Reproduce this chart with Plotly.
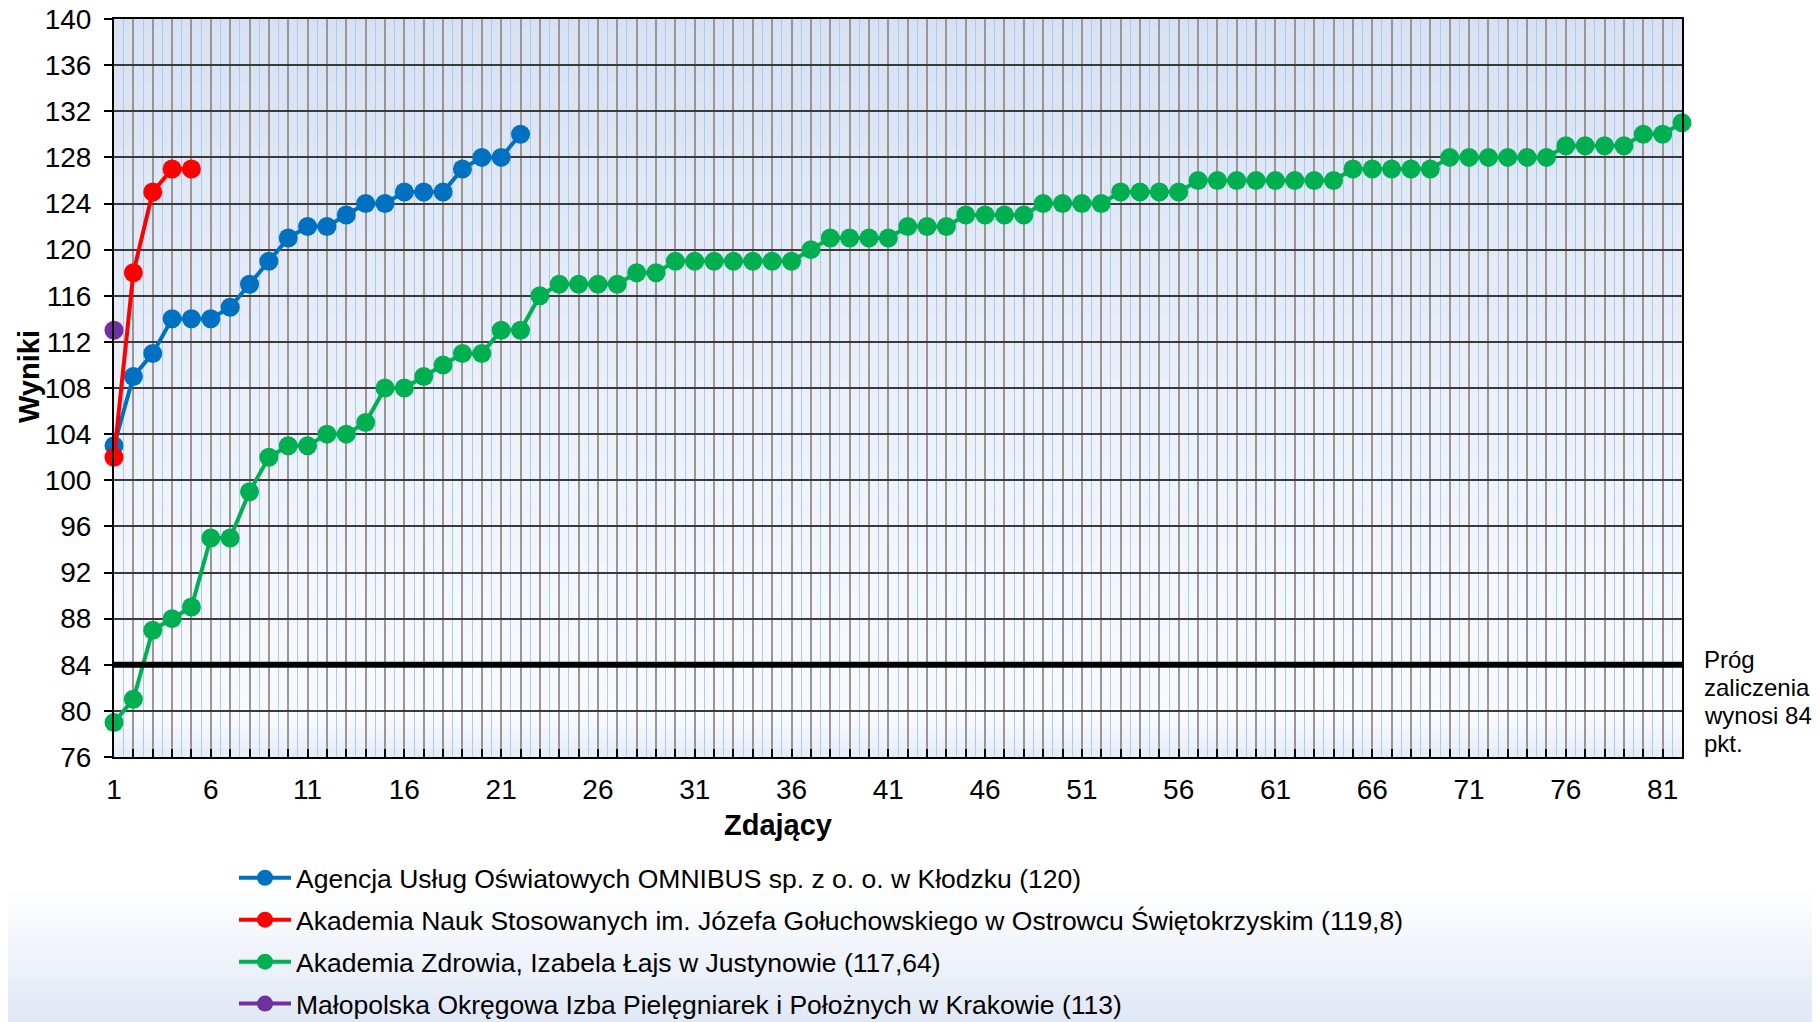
import plotly.graph_objects as go

# ---------------- data ----------------
omnibus = [103, 109, 111, 114, 114, 114, 115, 117, 119, 121, 122, 122, 123, 124,
           124, 125, 125, 125, 127, 128, 128, 130]
ans_ostrowiec = [102, 118, 125, 127, 127]
zdrowia = [79, 81, 87, 88, 89, 95, 95, 99, 102, 103, 103, 104, 104, 105, 108, 108,
           109, 110, 111, 111, 113, 113, 116, 117, 117, 117, 117, 118, 118, 119,
           119, 119, 119, 119, 119, 119, 120, 121, 121, 121, 121, 122, 122, 122,
           123, 123, 123, 123, 124, 124, 124, 124, 125, 125, 125, 125, 126, 126,
           126, 126, 126, 126, 126, 126, 127, 127, 127, 127, 127, 128, 128, 128,
           128, 128, 128, 129, 129, 129, 129, 130, 130, 131]
malopolska = [113]
threshold = 84

series_names = [
    "Agencja Usług Oświatowych OMNIBUS sp. z o. o. w Kłodzku (120)",
    "Akademia Nauk Stosowanych im. Józefa Gołuchowskiego w Ostrowcu Świętokrzyskim (119,8)",
    "Akademia Zdrowia, Izabela Łajs w Justynowie (117,64)",
    "Małopolska Okręgowa Izba Pielęgniarek i Położnych w Krakowie (113)",
]
series_colors = ["#0070C0", "#FF0000", "#00B050", "#7030A0"]
n_candidates = 82
x_ticks = list(range(1, n_candidates + 1))
x_ticktext = [str(v) if (v - 1) % 5 == 0 else "" for v in x_ticks]
y_ticks = list(range(76, 141, 4))
threshold_lines = ["Próg", "zaliczenia", "wynosi 84", "pkt."]

FONT = "Liberation Sans, Arial, sans-serif"

# page is offset by the default 8px body margin; figure is made a bit taller
# than the window so the legend never gets clipped
OFF = 8
W, H = 1820 - OFF, 1040
# plot-area geometry in page pixels
L, R, T, B = 114, 1682, 19, 757
PW, PH = R - L, B - T

def px(xp):
    return (xp - L) / PW

def py(yp):
    return (B - yp) / PH

fig = go.Figure()

for name, vals, col in zip(series_names,
                           [omnibus, ans_ostrowiec, zdrowia, malopolska],
                           series_colors):
    fig.add_trace(go.Scatter(
        x=list(range(1, len(vals) + 1)), y=vals, name=name,
        mode="lines+markers", line=dict(color=col, width=4),
        marker=dict(color=col, size=19), cliponaxis=False,
        legendgroup=name,
    ))

fig.add_trace(go.Scatter(
    x=[1, n_candidates], y=[threshold, threshold], mode="lines",
    line=dict(color="black", width=6), showlegend=False, hoverinfo="skip",
))

# ---------------- background gradients (decoration) ----------------
def lerp(c1, c2, t):
    return tuple(round(a + (b - a) * t) for a, b in zip(c1, c2))

stops = [(0.0, (228, 235, 247)), (0.05, (248, 250, 254)), (0.25, (243, 246, 252)),
         (1.0, (216, 225, 242))]

def grad_color(f):
    for (p1, c1), (p2, c2) in zip(stops[:-1], stops[1:]):
        if p1 <= f <= p2:
            return lerp(c1, c2, (f - p1) / (p2 - p1))
    return stops[-1][1]

shapes = []
N = 80
for i in range(N):
    f0, f1 = i / N, (i + 1) / N
    c = grad_color((f0 + f1) / 2)
    shapes.append(dict(type="rect", xref="x domain", yref="y domain",
                       x0=0, x1=1, y0=f0, y1=f1 + 0.002, layer="below",
                       line=dict(width=0), fillcolor="rgb(%d,%d,%d)" % c))

# page gradient at bottom
M = 40
py_top, py_bot = 888.0, 1030.0
for i in range(M):
    a = py_top + (py_bot - py_top) * i / M
    b = py_top + (py_bot - py_top) * (i + 1) / M
    c = lerp((255, 255, 255), (222, 230, 245), (i + 0.5) / M)
    shapes.append(dict(type="rect", xref="paper", yref="paper",
                       x0=px(0), x1=px(1830),
                       y0=py(b + 0.6 if i < M - 1 else 1060), y1=py(a), layer="below",
                       line=dict(width=0), fillcolor="rgb(%d,%d,%d)" % c))

annotations = [
    dict(text="<b>Zdający</b>", xref="paper", yref="paper",
         x=px(778), y=py(825), showarrow=False,
         xanchor="center", yanchor="middle", font=dict(size=29)),
    dict(text="<b>Wyniki</b>", xref="paper", yref="paper", textangle=-90,
         x=px(29), y=py(377), showarrow=False,
         xanchor="center", yanchor="middle", font=dict(size=29)),
]
for k, t in enumerate(threshold_lines):
    annotations.append(dict(text=t, xref="paper", yref="paper",
                            x=px(1702), y=py(659.3 + k * 27.9), showarrow=False,
                            xanchor="left", yanchor="middle", align="left",
                            font=dict(size=24)))

fig.update_layout(
    width=W, height=H,
    margin=dict(l=L - OFF, r=1820 - R, t=T - OFF, b=H - (B - OFF), autoexpand=False),
    paper_bgcolor="white", plot_bgcolor="rgba(0,0,0,0)",
    font=dict(family=FONT, color="black", size=28),
    shapes=shapes,
    showlegend=True,
    legend=dict(x=px(234), y=py(854), xanchor="left", yanchor="top",
                font=dict(size=26.5, family=FONT), bgcolor="rgba(0,0,0,0)",
                tracegroupgap=4.5, itemwidth=52),
    xaxis=dict(range=[1, n_candidates], tickmode="array", tickvals=x_ticks,
               ticktext=x_ticktext, showgrid=True, gridcolor="#979797", gridwidth=1.6,
               ticks="inside", ticklen=8, tickwidth=2, tickcolor="black",
               showline=True, linecolor="black", linewidth=2, mirror=True,
               tickfont=dict(size=28), zeroline=False, ticklabelstandoff=6,
               minor=dict(tickmode="array",
                          tickvals=[v + 0.5 for v in x_ticks[:-1]],
                          showgrid=True, gridcolor="#aacbec", gridwidth=1.2,
                          ticks="")),
    yaxis=dict(range=[76, 140], tickmode="array", tickvals=y_ticks,
               showgrid=True, gridcolor="#3a3a3a", gridwidth=1.5,
               ticks="outside", ticklen=8, tickwidth=2, tickcolor="black",
               showline=True, linecolor="black", linewidth=2, mirror=True,
               tickfont=dict(size=28), zeroline=False, ticklabelstandoff=7,
               ticklabeloverflow="allow"),
    annotations=annotations,
)

fig.write_html("out.html")
